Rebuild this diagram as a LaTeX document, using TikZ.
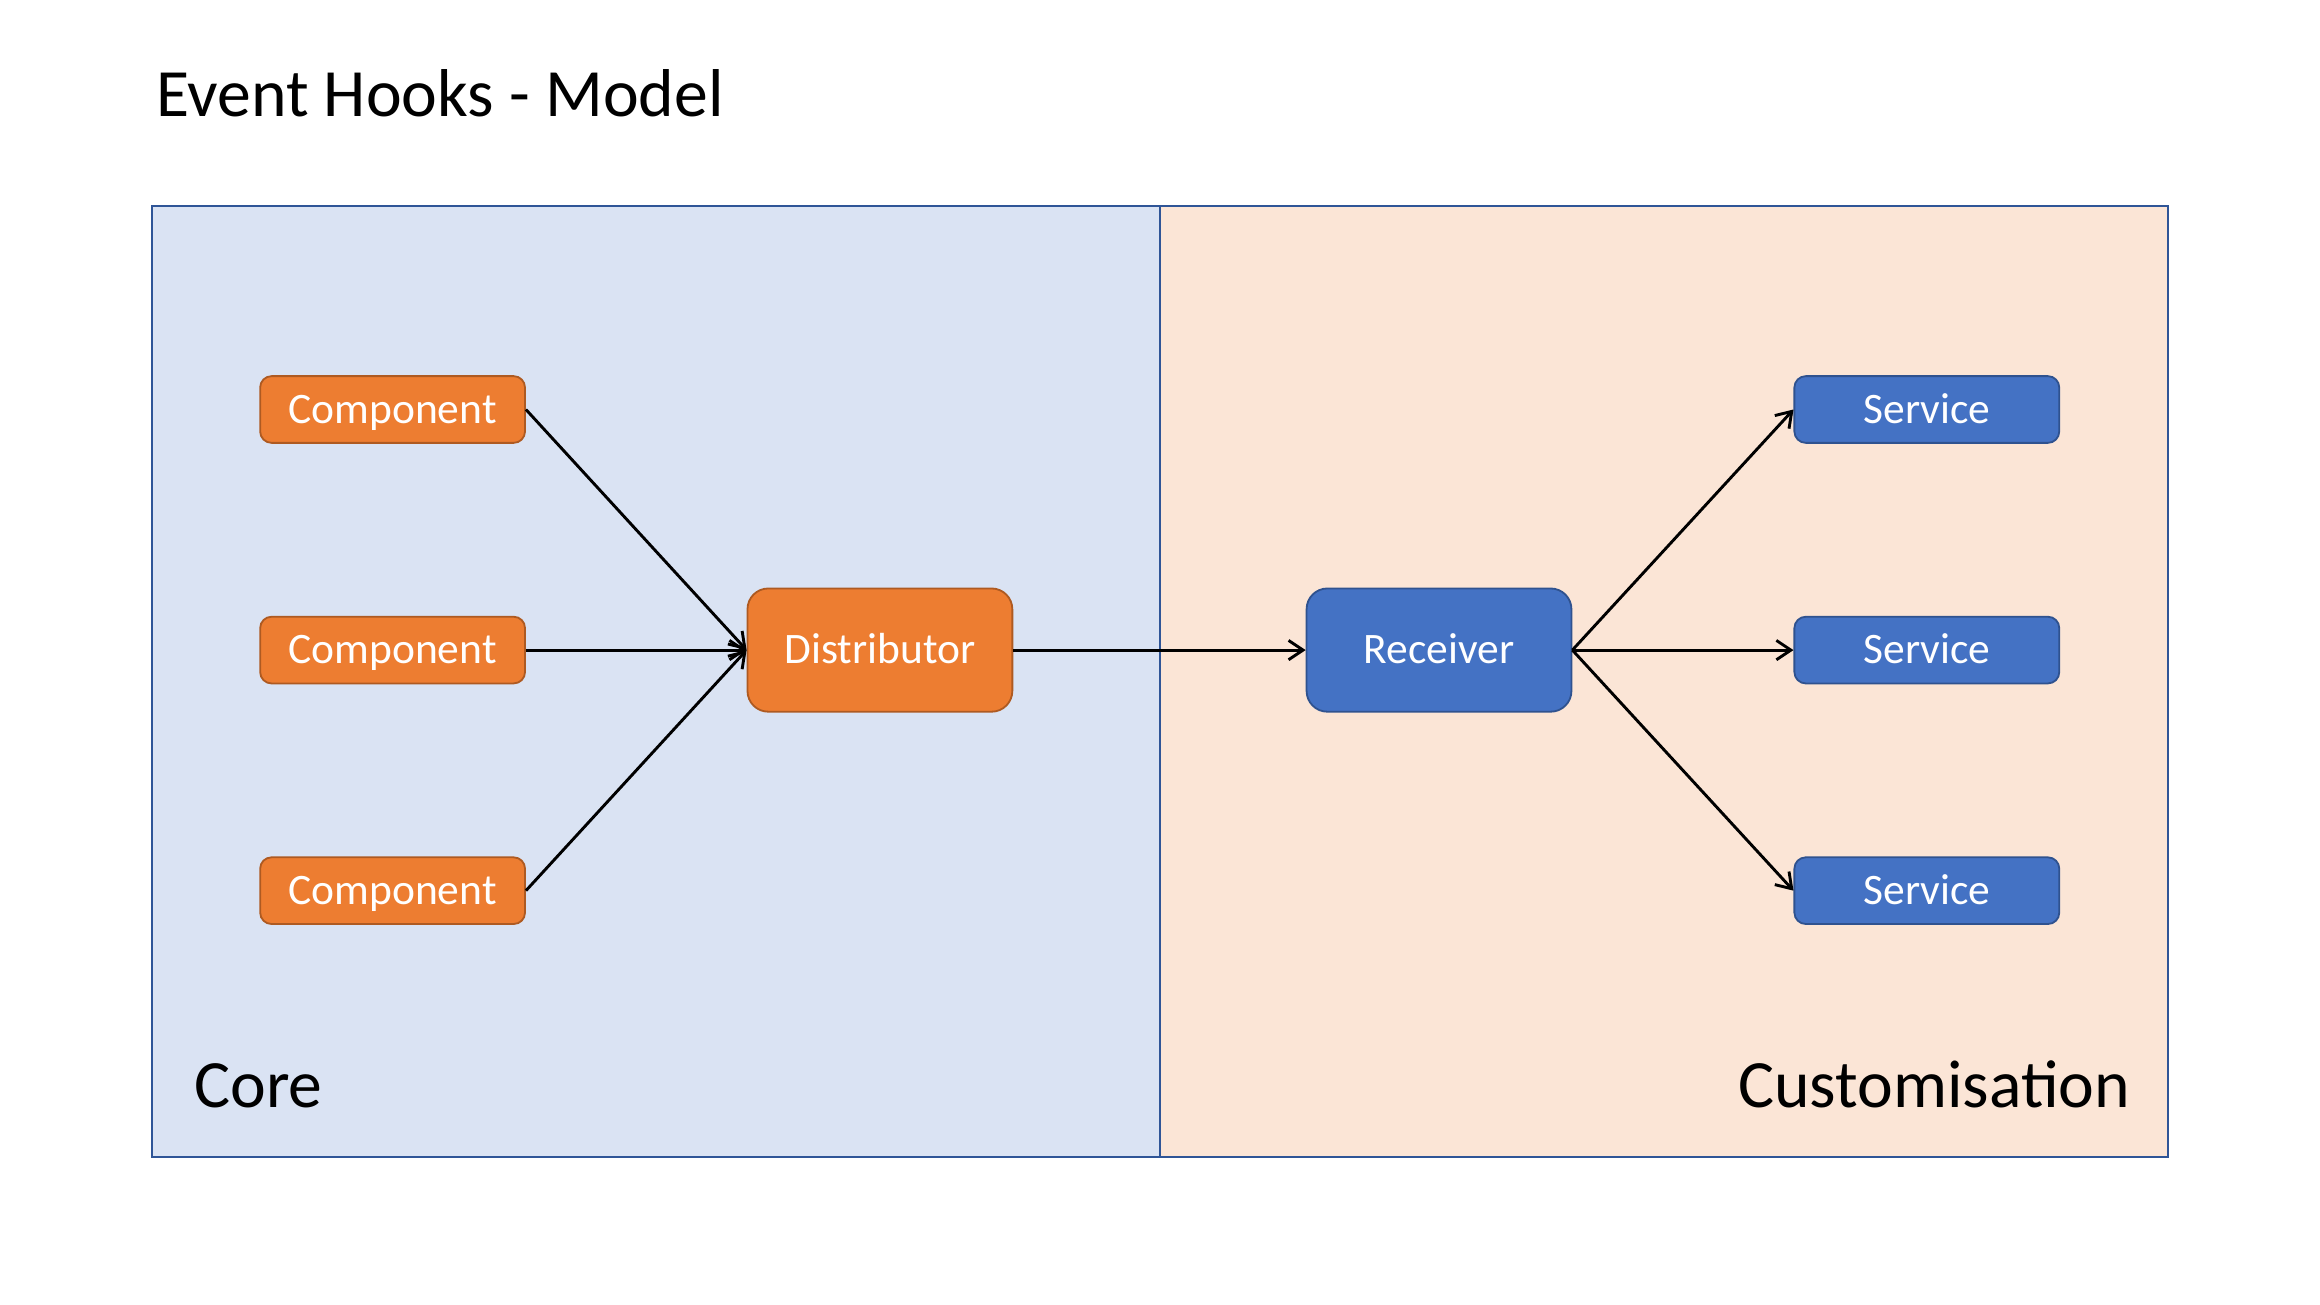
\documentclass[tikz,border=0pt]{standalone}
\usepackage{fontspec}
\setmainfont{Carlito}
\usepackage{tikz}
\usetikzlibrary{arrows.meta}
\usetikzlibrary{positioning,calc}

\definecolor{coreFill}{HTML}{DAE3F3}
\definecolor{customFill}{HTML}{FBE5D6}
\definecolor{frameLine}{HTML}{2F5597}
\definecolor{orangeFill}{HTML}{ED7D31}
\definecolor{orangeLine}{HTML}{AE5A21}
\definecolor{blueFill}{HTML}{4472C4}
\definecolor{blueLine}{HTML}{2F528F}

\begin{document}
\begin{tikzpicture}[x=1pt,y=1pt]
	%defines
	\tikzstyle{component}	= [rectangle, rounded corners=4.7pt, minimum width=109.6pt, minimum height=27.6pt, text height=11.2pt, text depth=0pt, text centered, draw=orangeLine, fill=orangeFill, line width=0.75pt, text=white, font=\fontsize{18}{21}\selectfont]
	\tikzstyle{distributor}	= [rectangle, rounded corners=8.6pt, minimum width=109.6pt, minimum height=51pt, text height=11.2pt, text depth=0pt, text centered, draw=orangeLine, fill=orangeFill, line width=0.75pt, text=white, font=\fontsize{18}{21}\selectfont]
	\tikzstyle{receiver}	= [rectangle, rounded corners=8.6pt, minimum width=109.6pt, minimum height=51pt, text height=11.2pt, text depth=0pt, text centered, draw=blueLine, fill=blueFill, line width=0.75pt, text=white, font=\fontsize{18}{21}\selectfont]
	\tikzstyle{service}	= [rectangle, rounded corners=4.7pt, minimum width=109.6pt, minimum height=27.6pt, text height=11.2pt, text depth=0pt, text centered, draw=blueLine, fill=blueFill, line width=0.75pt, text=white, font=\fontsize{18}{21}\selectfont]
	\tikzstyle{caption}	= [inner sep=0pt, font=\fontsize{28}{33}\selectfont]
	\tikzstyle{arrow} = [line width=1.2pt,->,>={Straight Barb[length=6pt,width=8pt]}]
	%page
	\useasboundingbox (0,0) rectangle (960,-540);
	\fill[coreFill] (62.8,-85.1) rectangle (479.9,-478.8);
	\fill[customFill] (479.9,-85.1) rectangle (897.2,-478.8);
	\draw[frameLine, line width=0.75pt] (62.8,-85.1) rectangle (897.2,-478.8) (479.9,-85.1) -- (479.9,-478.8);
	\node (title) [caption, anchor=base west] at (64.4,-48.2) {Event Hooks - Model};
	\node (core) [caption, anchor=base west] at (80.2,-458.3) {Core};
	\node (customisation) [caption, anchor=base east] at (881.6,-458.3) {Customisation};
	%chart
	\node (distributor) [distributor] at (364.1,-269) {Distributor};
	\node (componentMid) [component, left=91.3pt of distributor] {Component};
	\node (componentTop) [component, above=71.2pt of componentMid] {Component};
	\node (componentBot) [component, below=71.2pt of componentMid] {Component};
	\node (receiver) [receiver, right=121pt of distributor] {Receiver};
	\node (serviceMid) [service, right=91.5pt of receiver] {Service};
	\node (serviceTop) [service, above=71.2pt of serviceMid] {Service};
	\node (serviceBot) [service, below=71.2pt of serviceMid] {Service};
	\draw [arrow] (componentTop.east) -- (distributor.west);
	\draw [arrow] (componentMid.east) -- (distributor.west);
	\draw [arrow] (componentBot.east) -- (distributor.west);
	\draw [arrow] (distributor.east) -- (receiver.west);
	\draw [arrow] (receiver.east) -- (serviceTop.west);
	\draw [arrow] (receiver.east) -- (serviceMid.west);
	\draw [arrow] (receiver.east) -- (serviceBot.west);
\end{tikzpicture}
\end{document}
